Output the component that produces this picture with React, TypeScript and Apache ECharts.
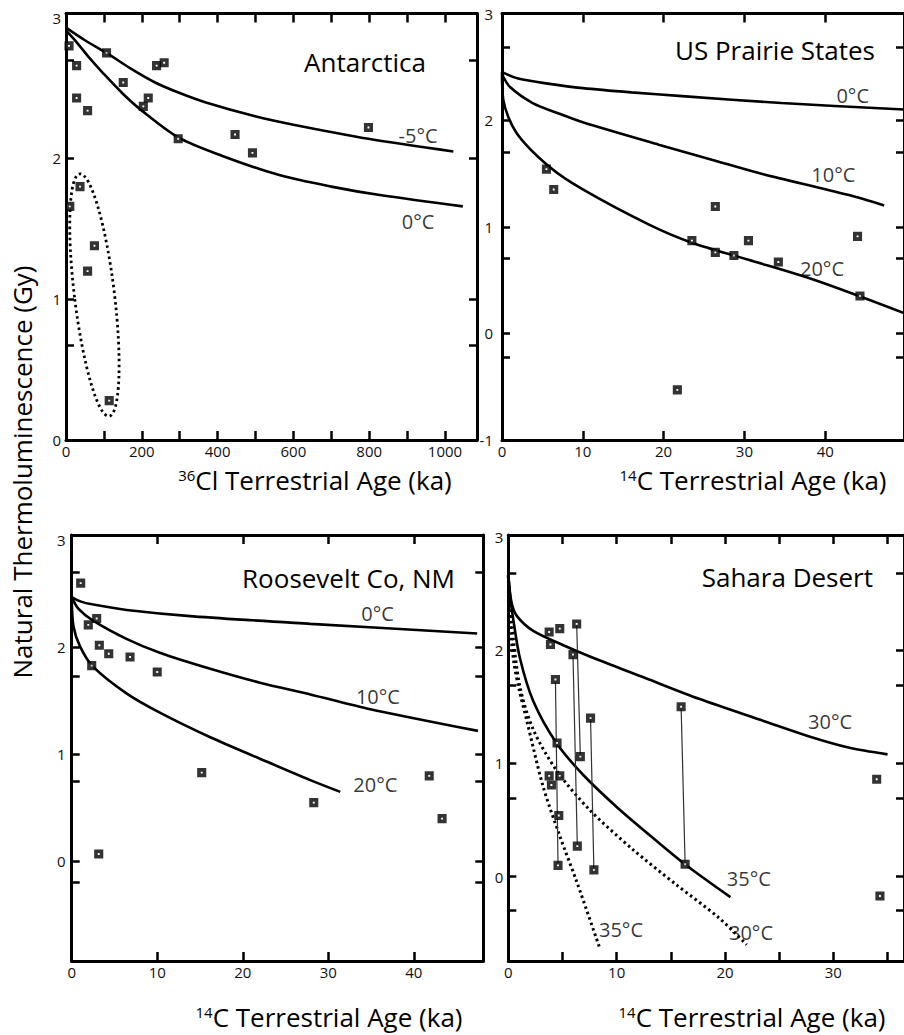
import React, { useEffect, useRef } from "react";
import * as echarts from "echarts";

const FONT = "'Open Sans', 'DejaVu Sans', sans-serif";

// ---------------- Antarctica (36Cl terrestrial age, ka) ----------------
const antXLabels = [0, 200, 400, 600, 800, 1000];
const antXTicks = [100, 200, 300, 400, 500, 600, 700, 800, 900, 1000];
const antYLabels = [0, 1, 2, 3];
const antYTicks = [0.67, 1, 2, 2.7];
const antPoints = [
  [8, 2.8], [28, 2.66], [28, 2.43], [57, 2.34], [107, 2.75], [151, 2.54], [204, 2.37],
  [217, 2.43], [239, 2.66], [259, 2.68], [296, 2.14], [446, 2.17], [492, 2.04], [798, 2.22],
  [37, 1.8], [10, 1.66], [75, 1.38], [57, 1.2], [114, 0.28],
];
const antCurveM5 = [
  [0, 2.93], [50, 2.84], [107, 2.75], [170, 2.64], [235, 2.54], [300, 2.465], [367, 2.4],
  [499, 2.3], [600, 2.24], [798, 2.14], [1022, 2.05],
];
const antCurve0 = [
  [0, 2.91], [30, 2.82], [60, 2.72], [100, 2.6], [150, 2.46], [200, 2.34], [296, 2.15],
  [411, 2.02], [565, 1.88], [700, 1.8], [828, 1.74], [1047, 1.66],
];
const antCurveLabels = [[929, 2.16, "-5°C"], [929, 1.55, "0°C"]];
// centre x, centre y, semi-axis x (ka), semi-axis y (Gy), tilt (rad)
const antEllipse = [75, 1.03, 52.8, 0.867, 0.12];

// ---------------- US Prairie States (14C terrestrial age, ka) ----------------
const praXLabels = [0, 10, 20, 30, 40];
const praXTicks = [10, 20, 30, 40];
const praYLabels = [-1, 0, 1, 2, 3];
const praYTicks = [-0.22, 0, 0.7, 1, 1.7, 2, 2.68];
const praPoints = [
  [5.5, 1.54], [6.4, 1.35], [26.4, 1.19], [23.5, 0.87], [26.4, 0.76], [28.7, 0.73],
  [30.5, 0.87], [34.2, 0.67], [44.0, 0.91], [44.3, 0.35], [21.7, -0.53],
];
const praCurve0 = [[0, 2.45], [2, 2.39], [5.9, 2.34], [10, 2.3], [16, 2.26], [22.3, 2.225], [34.6, 2.16], [49.75, 2.1]];
const praCurve10 = [
  [0, 2.43], [1, 2.31], [3.8, 2.16], [7.1, 2.06], [10, 1.98], [19.4, 1.77], [26.4, 1.62],
  [32, 1.5], [42.8, 1.3], [47.3, 1.2],
];
const praCurve20 = [
  [0, 2.45], [0.16, 2.19], [1.8, 1.88], [5.9, 1.56], [10, 1.35], [18.2, 1.02], [23.5, 0.85],
  [30.5, 0.69], [38.7, 0.5], [49.75, 0.19],
];
const praCurveLabels = [[43.4, 2.23, "0°C"], [41.0, 1.49, "10°C"], [39.6, 0.61, "20°C"]];

// ---------------- Roosevelt Co, NM ----------------
const rooXLabels = [0, 10, 20, 30, 40];
const rooXTicks = [10, 20, 30, 40];
const rooYLabels = [0, 1, 2, 3];
const rooYTicks = [-0.19, 0, 0.75, 1, 1.73, 2, 2.7];
const rooPoints = [
  [1.05, 2.6], [1.94, 2.21], [2.92, 2.27], [3.23, 2.02], [2.34, 1.83], [4.33, 1.94], [6.82, 1.91],
  [10.0, 1.77], [15.2, 0.83], [3.16, 0.07], [28.3, 0.55], [41.8, 0.8], [43.3, 0.4],
];
const rooCurve0 = [[0, 2.47], [1, 2.43], [2.53, 2.4], [6.43, 2.35], [14.2, 2.29], [27.9, 2.22], [47.4, 2.13]];
const rooCurve10 = [
  [0, 2.47], [0.8, 2.36], [2.5, 2.25], [6.4, 2.08], [10.3, 1.95], [16.2, 1.8], [22, 1.67],
  [27.9, 1.56], [34.5, 1.43], [47.5, 1.22],
];
const rooCurve20 = [
  [0, 2.47], [0.2, 2.2], [0.97, 2.01], [2.5, 1.82], [6.4, 1.57], [10.3, 1.39], [16.2, 1.16],
  [22, 0.96], [27.9, 0.76], [31.4, 0.65],
];
const rooCurveLabels = [[35.75, 2.32, "0°C"], [35.8, 1.54, "10°C"], [35.5, 0.72, "20°C"]];

// ---------------- Sahara Desert ----------------
const sahXLabels = [0, 10, 20, 30];
const sahXTicks = [5, 10, 15, 20, 25, 30, 35];
const sahYLabels = [0, 1, 2, 3];
const sahYTicks = [-0.3, 0, 0.69, 1, 1.69, 2, 2.68];
const sahPoints = [
  [3.77, 2.16], [4.75, 2.19], [3.89, 2.05], [6.31, 2.23], [5.97, 1.96], [4.35, 1.74], [4.5, 1.18],
  [6.65, 1.06], [7.59, 1.4], [3.77, 0.89], [3.98, 0.81], [4.75, 0.89], [4.66, 0.54], [6.37, 0.27],
  [4.59, 0.1], [7.9, 0.06], [15.95, 1.5], [16.32, 0.11], [34.0, 0.86], [34.3, -0.17],
];
const sahLinks = [[5, 14], [3, 7], [4, 13], [8, 15], [16, 17]];
const sahCurve30 = [
  [0, 2.66], [0.3, 2.42], [0.8, 2.3], [2.3, 2.17], [5.4, 2.03], [8.4, 1.91], [13, 1.74],
  [17.6, 1.57], [23.7, 1.37], [27.7, 1.24], [31.4, 1.14], [35, 1.08],
];
const sahCurve35 = [
  [0, 2.66], [0.2, 2.45], [0.46, 2.27], [1.07, 1.93], [2.3, 1.55], [4.44, 1.18], [6.9, 0.9],
  [9.95, 0.62], [13, 0.37], [16.3, 0.11], [20.5, -0.18],
];
const sahDot30 = [
  [0, 2.66], [0.3, 2.25], [1.07, 1.68], [2.3, 1.3], [4.44, 0.94], [7.5, 0.59], [11.5, 0.24],
  [15.5, -0.07], [19.4, -0.36], [22, -0.6],
];
const sahDot35 = [
  [0, 2.66], [0.15, 2.25], [0.5, 1.9], [1.0, 1.65], [1.7, 1.38], [3.2, 0.8], [4.75, 0.36],
  [6.3, -0.04], [8.4, -0.62],
];
const sahCurveLabels = [[29.7, 1.37, "30°C"], [22.2, -0.02, "35°C"], [22.4, -0.49, "30°C"], [10.4, -0.47, "35°C"]];

const titles = ["Antarctica", "US Prairie States", "Roosevelt Co, NM", "Sahara Desert"];

function axisPair(gi: number, dim: "x" | "y", range: number[], labels: number[], ticks: number[], margin: number) {
  const line = { show: true, onZero: false, lineStyle: { color: "#000", width: 3 } };
  const tick = {
    show: true,
    inside: true,
    length: dim === "x" ? 9 : 8,
    lineStyle: { color: "#000", width: 2.5 },
    customValues: ticks,
  };
  const base = {
    type: "value",
    gridIndex: gi,
    min: range[0],
    max: range[1],
    axisLine: line,
    axisTick: tick,
    splitLine: { show: false },
    minorTick: { show: false },
  };
  const first = {
    ...base,
    position: dim === "x" ? "bottom" : "left",
    axisLabel: {
      show: true,
      customValues: labels,
      color: "#111",
      fontSize: 15,
      lineHeight: 15,
      fontFamily: FONT,
      margin,
      formatter: (v: number) => String(v),
    },
  };
  const second = {
    ...base,
    position: dim === "x" ? "top" : "right",
    axisLabel: { show: false },
  };
  return [first, second];
}

function curve(gi: number, data: number[][], dotted = false) {
  return {
    type: "line",
    xAxisIndex: gi * 2,
    yAxisIndex: gi * 2,
    data,
    smooth: 0.3,
    symbol: "none",
    showSymbol: false,
    silent: true,
    z: 2,
    lineStyle: dotted
      ? { color: "#000", width: 3, type: [2.5, 3.2] }
      : { color: "#000", width: 2.6, type: "solid" },
  };
}

function points(gi: number, data: number[][]) {
  return {
    type: "scatter",
    xAxisIndex: gi * 2,
    yAxisIndex: gi * 2,
    data,
    symbol: "rect",
    symbolSize: 5.5,
    silent: true,
    z: 5,
    itemStyle: { color: "#fff", borderColor: "#000", borderWidth: 3.6 },
  };
}

function curveLabels(gi: number, labels: (number | string)[][]) {
  return {
    type: "scatter",
    xAxisIndex: gi * 2,
    yAxisIndex: gi * 2,
    data: labels.map((l) => ({ value: [l[0], l[1]], name: l[2] })),
    symbolSize: 1,
    silent: true,
    z: 6,
    itemStyle: { color: "rgba(0,0,0,0)" },
    label: {
      show: true,
      position: "inside",
      formatter: "{b}",
      color: "#000",
      fontSize: 20,
      fontFamily: FONT,
      textBorderWidth: 0,
    },
  };
}

function buildOption() {
  const panels = [
    { grid: { left: 66, top: 13.5, width: 411, height: 426.5 }, x: [0, 1084.4], y: [0, 3.03], xl: antXLabels, xt: antXTicks, yl: antYLabels, yt: antYTicks, ym: 5 },
    { grid: { left: 502, top: 13.5, width: 405, height: 426.5 }, x: [0, 49.75], y: [-1, 3], xl: praXLabels, xt: praXTicks, yl: praYLabels, yt: praYTicks, ym: 9 },
    { grid: { left: 71.7, top: 535, width: 411.6, height: 426 }, x: [0, 48.12], y: [-0.93, 3.05], xl: rooXLabels, xt: rooXTicks, yl: rooYLabels, yt: rooYTicks, ym: 6 },
    { grid: { left: 508.3, top: 535, width: 397.7, height: 426 }, x: [0, 36.52], y: [-0.744, 3.016], xl: sahXLabels, xt: sahXTicks, yl: sahYLabels, yt: sahYTicks, ym: 5 },
  ];
  const grid: any[] = [];
  const xAxis: any[] = [];
  const yAxis: any[] = [];
  panels.forEach((p, gi) => {
    grid.push({ ...p.grid, containLabel: false });
    xAxis.push(...axisPair(gi, "x", p.x, p.xl, p.xt, 3));
    yAxis.push(...axisPair(gi, "y", p.y, p.yl, p.yt, p.ym));
  });

  const series: any[] = [
    curve(0, antCurveM5),
    curve(0, antCurve0),
    points(0, antPoints),
    curveLabels(0, antCurveLabels),
    {
      type: "custom",
      xAxisIndex: 0,
      yAxisIndex: 0,
      silent: true,
      z: 3,
      data: [antEllipse],
      renderItem: (_params: any, api: any) => {
        const c = api.coord([api.value(0), api.value(1)]);
        const s = api.size([api.value(2), api.value(3)]);
        return {
          type: "ellipse",
          x: c[0],
          y: c[1],
          rotation: api.value(4),
          shape: { cx: 0, cy: 0, rx: s[0], ry: s[1] },
          style: { fill: "none", stroke: "#000", lineWidth: 2.8, lineDash: [2.5, 3.2] },
        };
      },
    },
    curve(1, praCurve0),
    curve(1, praCurve10),
    curve(1, praCurve20),
    points(1, praPoints),
    curveLabels(1, praCurveLabels),
    curve(2, rooCurve0),
    curve(2, rooCurve10),
    curve(2, rooCurve20),
    points(2, rooPoints),
    curveLabels(2, rooCurveLabels),
    curve(3, sahCurve30),
    curve(3, sahCurve35),
    curve(3, sahDot30, true),
    curve(3, sahDot35, true),
    {
      type: "lines",
      coordinateSystem: "cartesian2d",
      xAxisIndex: 6,
      yAxisIndex: 6,
      silent: true,
      z: 4,
      lineStyle: { color: "#333", width: 1.2, opacity: 1 },
      data: sahLinks.map(([a, b]) => ({ coords: [sahPoints[a], sahPoints[b]] })),
    },
    points(3, sahPoints),
    curveLabels(3, sahCurveLabels),
  ];

  const titleStyle = { fontSize: 26, fontFamily: FONT, fill: "#000", align: "right", verticalAlign: "middle" };
  const axisTitle = (sup: string, rest: string, x: number, y: number) => ({
    type: "text",
    x,
    y,
    style: {
      text: `{s|${sup}}{n|${rest}}`,
      align: "center",
      verticalAlign: "middle",
      rich: {
        s: { fontSize: 15, fontFamily: FONT, fill: "#000", lineHeight: 14, verticalAlign: "top" },
        n: { fontSize: 26, fontFamily: FONT, fill: "#000", lineHeight: 26 },
      },
    },
  });

  const graphic = [
    { type: "text", x: 426, y: 62, style: { ...titleStyle, text: titles[0] } },
    { type: "text", x: 875, y: 50, style: { ...titleStyle, text: titles[1] } },
    { type: "text", x: 455, y: 578, style: { ...titleStyle, text: titles[2] } },
    { type: "text", x: 873, y: 577, style: { ...titleStyle, text: titles[3] } },
    axisTitle("36", "Cl Terrestrial Age (ka)", 315, 480),
    axisTitle("14", "C Terrestrial Age (ka)", 753, 480),
    axisTitle("14", "C Terrestrial Age (ka)", 329, 1017),
    axisTitle("14", "C Terrestrial Age (ka)", 752, 1017),
    {
      type: "text",
      x: 22,
      y: 472,
      rotation: Math.PI / 2,
      style: {
        text: "Natural Thermoluminescence (Gy)",
        fontSize: 26,
        fontFamily: FONT,
        fill: "#000",
        align: "center",
        verticalAlign: "middle",
      },
    },
  ];

  return {
    animation: false,
    backgroundColor: "#fff",
    textStyle: { fontFamily: FONT },
    grid,
    xAxis,
    yAxis,
    series,
    graphic,
  };
}

export default function App() {
  const ref = useRef<HTMLDivElement>(null);
  useEffect(() => {
    if (!ref.current) return;
    const chart = echarts.init(ref.current, null, { renderer: "svg" });
    chart.setOption(buildOption() as any);
    return () => chart.dispose();
  }, []);
  return (
    <div
      ref={ref}
      style={{ position: "absolute", left: 0, top: 0, width: 904, height: 1035, background: "#fff" }}
    />
  );
}
